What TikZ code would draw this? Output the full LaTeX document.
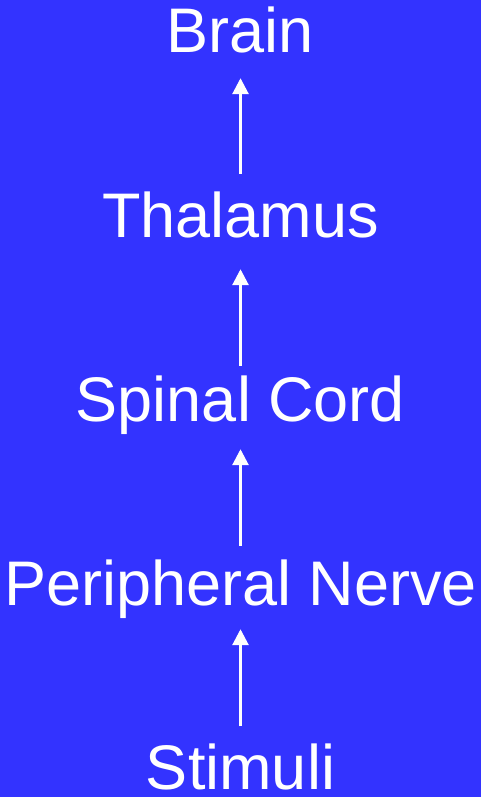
\documentclass[tikz,border=0pt]{standalone}
\usepackage{fontspec}
\setmainfont{Liberation Sans}
\usetikzlibrary{arrows.meta}
\definecolor{bg}{HTML}{3333FF}
\begin{document}
\begin{tikzpicture}[x=1pt,y=1pt,
  lbl/.style={text=white,font=\fontsize{63}{70}\selectfont,inner sep=0pt,text height=45pt,text depth=0pt,anchor=base},
  arr/.style={white,line width=2.8pt,-{Triangle[width=16pt,length=16pt]}}]
\fill[bg] (0,0) rectangle (481,-797);
\useasboundingbox (0,0) rectangle (481,-797);
\node[lbl] (brain) at (240.5,-53) {Brain};
\node[lbl] (thal) at (240.5,-237) {Thalamus};
\node[lbl] (spin) at (240.5,-421) {Spinal Cord};
\node[lbl] (pn) at (240.5,-605) {Peripheral Nerve};
\node[lbl] (stim) at (240.5,-789.5) {Stimuli};
\draw[arr,shorten <=18pt,shorten >=25pt] (thal.north) -- (brain.south);
\draw[arr,shorten <=10pt,shorten >=32pt] (spin.north) -- (thal.south);
\draw[arr,shorten <=14pt,shorten >=28pt] (pn.north) -- (spin.south);
\draw[arr,shorten <=18pt,shorten >=24pt] (stim.north) -- (pn.south);
\end{tikzpicture}
\end{document}
